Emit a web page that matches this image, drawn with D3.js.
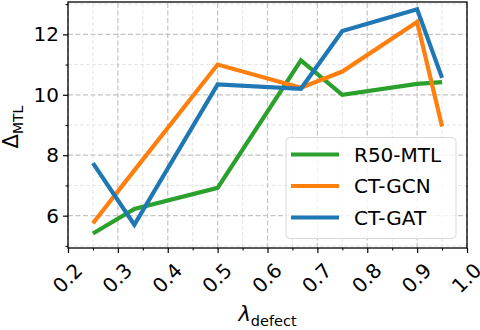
<!DOCTYPE html>
<html>
<head>
<meta charset="utf-8">
<script src="https://cdn.jsdelivr.net/npm/d3@7"></script>
<style>
  body { margin: 0; background: #fff; }
  svg { font-family: "DejaVu Sans", sans-serif; }
</style>
</head>
<body>
<div id="chart"></div>
<script>
// lambda_defect values
const lambdas = [0.25, 0.333, 0.5, 0.667, 0.75, 0.9, 0.95];
const r50mtl = [5.41, 6.22, 6.92, 11.14, 10.0, 10.36, 10.42];
const ctgcn = [5.75, 7.5, 11.0, 10.23, 10.77, 12.41, 8.95];
const ctgat = [7.74, 5.70, 10.34, 10.2, 12.11, 12.83, 10.56];
const seriesNames = ['R50-MTL', 'CT-GCN', 'CT-GAT'];
const xTicks = [0.2, 0.3, 0.4, 0.5, 0.6, 0.7, 0.8, 0.9, 1.0];
const yTicks = [6, 8, 10, 12];

const colors = ['#2ca02c', '#ff7f0e', '#1f77b4'];
const allSeries = [r50mtl, ctgcn, ctgat];

const width = 480, height = 330;
const margin = { top: 2, right: 13, bottom: 82, left: 68 };

const svg = d3.select('#chart').append('svg')
    .attr('width', width)
    .attr('height', height);

const x = d3.scaleLinear().domain([0.2, 1.0])
    .range([margin.left, width - margin.right]);
const y = d3.scaleLinear().domain([4.93, 13.07])
    .range([height - margin.bottom, margin.top]);

const xMinor = d3.range(0.25, 1.0, 0.1);
const yMinor = [5, 7, 9, 11, 13];

// minor grid
const grid = svg.append('g');
grid.selectAll('.gxm').data(xMinor).enter().append('line')
    .attr('x1', d => x(d)).attr('x2', d => x(d))
    .attr('y1', y.range()[0]).attr('y2', y.range()[1])
    .attr('stroke', '#e6e6e6').attr('stroke-width', 1)
    .attr('stroke-dasharray', '4,2');
grid.selectAll('.gym').data(yMinor).enter().append('line')
    .attr('x1', x.range()[0]).attr('x2', x.range()[1])
    .attr('y1', d => y(d)).attr('y2', d => y(d))
    .attr('stroke', '#e6e6e6').attr('stroke-width', 1)
    .attr('stroke-dasharray', '4,2');
// major grid
grid.selectAll('.gx').data(xTicks).enter().append('line')
    .attr('x1', d => x(d)).attr('x2', d => x(d))
    .attr('y1', y.range()[0]).attr('y2', y.range()[1])
    .attr('stroke', '#c4c4c4').attr('stroke-width', 1.2)
    .attr('stroke-dasharray', '5,2.5');
grid.selectAll('.gy').data(yTicks).enter().append('line')
    .attr('x1', x.range()[0]).attr('x2', x.range()[1])
    .attr('y1', d => y(d)).attr('y2', d => y(d))
    .attr('stroke', '#c4c4c4').attr('stroke-width', 1.2)
    .attr('stroke-dasharray', '5,2.5');

// lines
const line = d3.line()
    .x((d, i) => x(lambdas[i]))
    .y(d => y(d));

allSeries.forEach((s, k) => {
    svg.append('path')
        .datum(s)
        .attr('fill', 'none')
        .attr('stroke', colors[k])
        .attr('stroke-width', 4.2)
        .attr('stroke-linejoin', 'miter')
        .attr('stroke-linecap', 'butt')
        .attr('d', line);
});

// frame
svg.append('rect')
    .attr('x', x.range()[0]).attr('y', y.range()[1])
    .attr('width', x.range()[1] - x.range()[0])
    .attr('height', y.range()[0] - y.range()[1])
    .attr('fill', 'none').attr('stroke', '#000').attr('stroke-width', 1.3);

// axes
const xAxis = svg.append('g')
    .attr('transform', `translate(0,${y.range()[0]})`)
    .call(d3.axisBottom(x).tickValues(xTicks).tickFormat(d3.format('.1f')).tickSize(5).tickSizeOuter(0));
svg.append('g')
    .attr('transform', `translate(0,${y.range()[0]})`)
    .call(d3.axisBottom(x).tickValues(xMinor).tickFormat('').tickSize(2.5).tickSizeOuter(0))
    .call(g => g.select('.domain').remove());
xAxis.select('.domain').remove();
xAxis.selectAll('.tick line').attr('stroke-width', 1.2);
xAxis.selectAll('text')
    .attr('font-size', 20)
    .attr('font-family', 'DejaVu Sans')
    .attr('text-anchor', 'middle')
    .attr('x', -1)
    .attr('y', 30)
    .attr('dy', '0.35em')
    .attr('transform', 'rotate(-45,-1,30)')
    .attr('fill', '#000');

const yAxis = svg.append('g')
    .attr('transform', `translate(${x.range()[0]},0)`)
    .call(d3.axisLeft(y).tickValues(yTicks).tickFormat(d3.format('d')).tickSize(5).tickSizeOuter(0));
svg.append('g')
    .attr('transform', `translate(${x.range()[0]},0)`)
    .call(d3.axisLeft(y).tickValues(yMinor).tickFormat('').tickSize(2.5).tickSizeOuter(0))
    .call(g => g.select('.domain').remove());
yAxis.select('.domain').remove();
yAxis.selectAll('.tick line').attr('stroke-width', 1.2);
yAxis.selectAll('text')
    .attr('font-size', 20)
    .attr('font-family', 'DejaVu Sans')
    .attr('x', -9)
    .attr('fill', '#000');

// axis labels
const yl = svg.append('text')
    .attr('transform', `translate(18,${(y.range()[0] + y.range()[1]) / 2 + 2}) rotate(-90)`)
    .attr('text-anchor', 'middle')
    .attr('font-size', 21);
yl.append('tspan').text('Δ');
yl.append('tspan').attr('font-size', 14).attr('dy', 5).text('MTL');

const xl = svg.append('text')
    .attr('x', (x.range()[0] + x.range()[1]) / 2)
    .attr('y', 321)
    .attr('text-anchor', 'middle')
    .attr('font-size', 21);
xl.append('tspan').attr('font-style', 'italic').text('λ');
xl.append('tspan').attr('font-size', 14.5).attr('dy', 5).text('defect');

// legend
const lg = svg.append('g');
lg.append('rect')
    .attr('x', 286).attr('y', 137.5)
    .attr('width', 170).attr('height', 101)
    .attr('rx', 4)
    .attr('fill', 'rgba(255,255,255,0.8)')
    .attr('stroke', '#d8d8d8').attr('stroke-width', 1);
seriesNames.forEach((name, k) => {
    const yy = 154.5 + k * 31.5;
    lg.append('line')
        .attr('x1', 291).attr('x2', 339)
        .attr('y1', yy).attr('y2', yy)
        .attr('stroke', colors[k]).attr('stroke-width', 4.2);
    lg.append('text')
        .attr('x', 354).attr('y', yy)
        .attr('dy', '0.36em')
        .attr('font-size', 20)
        .text(name);
});
</script>
</body>
</html>
